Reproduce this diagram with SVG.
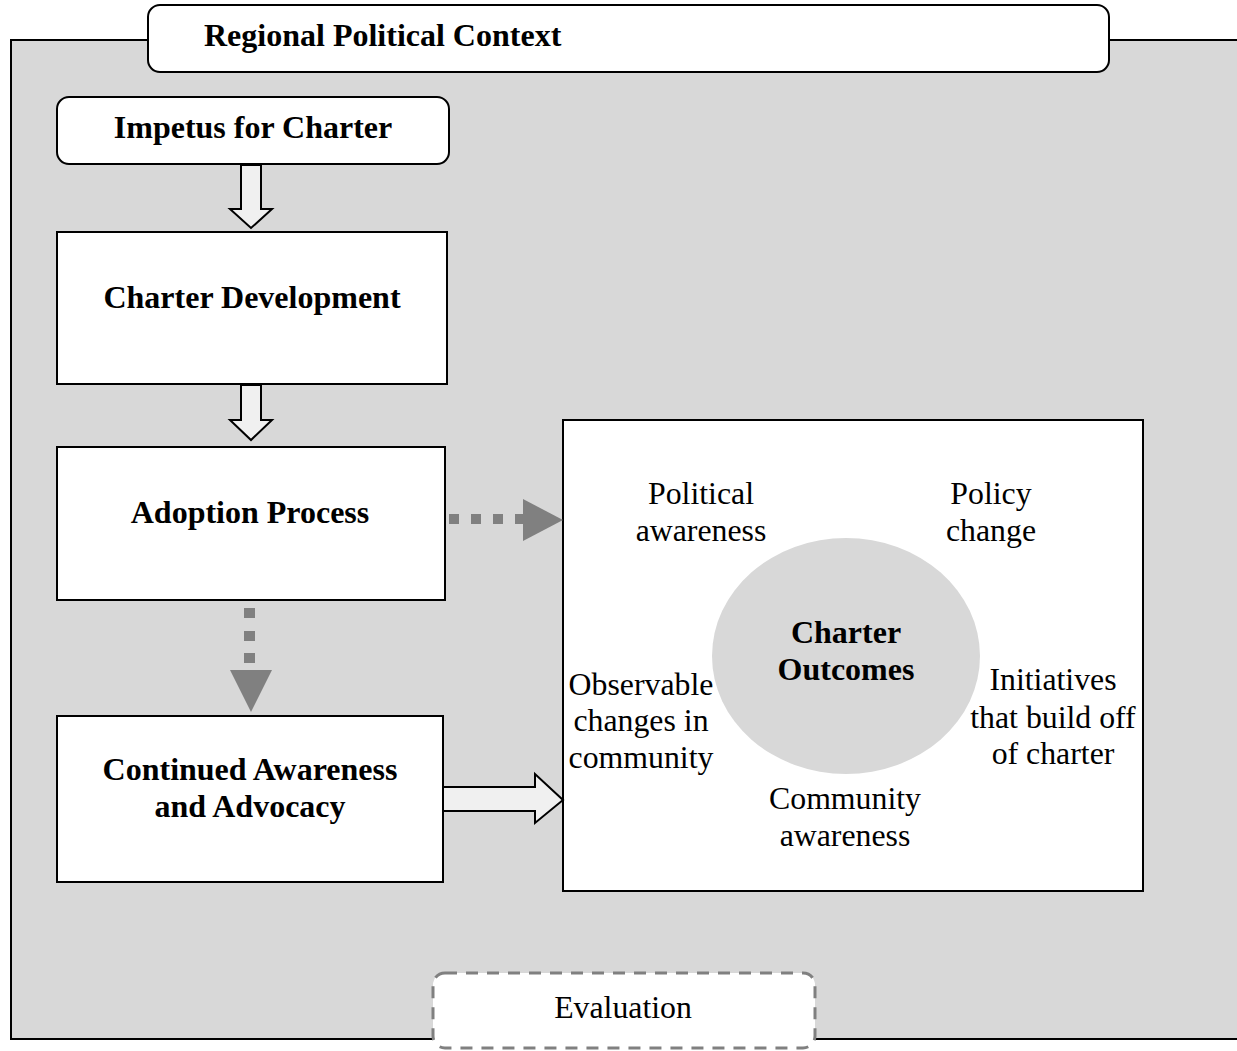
<svg xmlns="http://www.w3.org/2000/svg" width="1237" height="1051" viewBox="0 0 1237 1051">
<defs>
<style>
.b{font-family:"Liberation Serif","Times New Roman",serif;font-weight:bold;font-size:32px;fill:#000}
.r{font-family:"Liberation Serif","Times New Roman",serif;font-size:31.8px;fill:#000}
.box{fill:#fff;stroke:#000;stroke-width:2}
.hollow{fill:#f0f0f0;stroke:#000;stroke-width:2;stroke-linejoin:miter}
.dot{fill:#808080}
</style>
</defs>
<rect width="1237" height="1051" fill="#fff"/>
<g id="context-bg">
<rect x="11" y="40" width="1240" height="999" fill="#d8d8d8" stroke="#000" stroke-width="2"/>
</g>
<g id="regional-context">
<rect class="box" x="148" y="5" width="961" height="67" rx="12"/>
<text class="b" x="204" y="46">Regional Political Context</text>
</g>
<g id="impetus">
<rect class="box" x="57" y="97" width="392" height="67" rx="12"/>
<text class="b" x="253" y="138" text-anchor="middle">Impetus for Charter</text>
</g>
<g id="development">
<rect class="box" x="57" y="232" width="390" height="152"/>
<text class="b" x="252" y="308" text-anchor="middle">Charter Development</text>
</g>
<g id="adoption">
<rect class="box" x="57" y="447" width="388" height="153"/>
<text class="b" x="250" y="523" text-anchor="middle">Adoption Process</text>
</g>
<g id="continued">
<rect class="box" x="57" y="716" width="386" height="166"/>
<text class="b" x="250" y="780" text-anchor="middle">Continued Awareness</text>
<text class="b" x="250" y="817" text-anchor="middle">and Advocacy</text>
</g>
<g id="outcomes">
<rect class="box" x="563" y="420" width="580" height="471"/>
<ellipse cx="846" cy="656" rx="134" ry="118" fill="#d8d8d8"/>
<text class="b" x="846" y="643" text-anchor="middle">Charter</text>
<text class="b" x="846" y="680" text-anchor="middle">Outcomes</text>
<text class="r" x="701" y="504" text-anchor="middle">Political</text>
<text class="r" x="701" y="541" text-anchor="middle">awareness</text>
<text class="r" x="991" y="504" text-anchor="middle">Policy</text>
<text class="r" x="991" y="541" text-anchor="middle">change</text>
<text class="r" x="641" y="695" text-anchor="middle">Observable</text>
<text class="r" x="641" y="731" text-anchor="middle">changes in</text>
<text class="r" x="641" y="768" text-anchor="middle">community</text>
<text class="r" x="1053" y="690" text-anchor="middle">Initiatives</text>
<text class="r" x="1053" y="728" text-anchor="middle">that build off</text>
<text class="r" x="1053" y="764" text-anchor="middle">of charter</text>
<text class="r" x="845" y="809" text-anchor="middle">Community</text>
<text class="r" x="845" y="846" text-anchor="middle">awareness</text>
</g>
<g id="evaluation">
<rect x="433" y="973" width="382" height="75" rx="12" fill="#fff" stroke="#808080" stroke-width="3" stroke-dasharray="12,9"/>
<text class="r" x="623" y="1018" text-anchor="middle">Evaluation</text>
</g>
<g id="connectors">
<path class="hollow" d="M241,165 L261,165 L261,209 L272,209 L251,228 L230,209 L241,209 Z"/>
<path class="hollow" d="M241,385 L261,385 L261,420 L272,420 L251,440 L230,420 L241,420 Z"/>
<rect class="dot" x="449" y="514" width="10" height="10"/>
<rect class="dot" x="471" y="514" width="10" height="10"/>
<rect class="dot" x="493" y="514" width="10" height="10"/>
<rect class="dot" x="515" y="514" width="10" height="10"/>
<path class="dot" d="M523,499 L563,520 L523,541 Z"/>
<rect class="dot" x="244" y="608" width="11" height="10"/>
<rect class="dot" x="244" y="631" width="11" height="10"/>
<rect class="dot" x="244" y="653" width="11" height="10"/>
<path class="dot" d="M230,670 L272,670 L251,712 Z"/>
<path class="hollow" d="M444,787 L535,787 L535,774 L563,800 L535,823 L535,811 L444,811"/>
</g>
</svg>
